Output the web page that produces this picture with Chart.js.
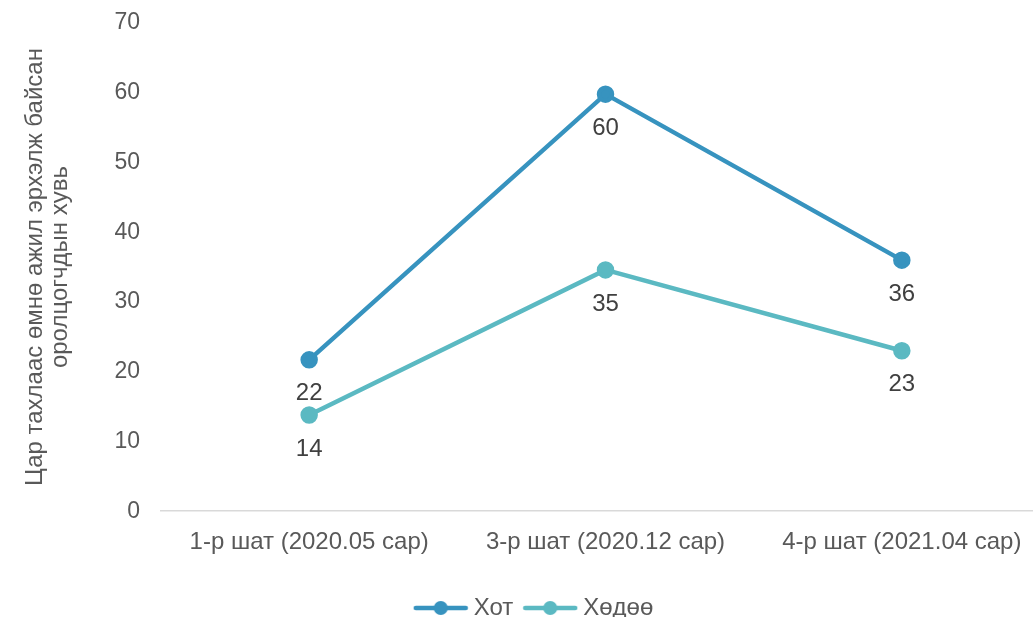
<!DOCTYPE html>
<html>
<head>
<meta charset="utf-8">
<script src="https://cdn.jsdelivr.net/npm/chart.js@4"></script>
<style>
html,body{margin:0;padding:0;background:#fff;}
#wrap{width:1033px;height:617px;}
</style>
</head>
<body>
<div id="wrap"><canvas id="c" width="1033" height="617"></canvas></div>
<script>
const categories = ["1-р шат (2020.05 сар)", "3-р шат (2020.12 сар)", "4-р шат (2021.04 сар)"];
const seriesNames = ["Хот", "Хөдөө"];
const hotValues = [21.7, 59.8, 36.0];
const hodooValues = [13.8, 34.6, 23.0];
const yTicks = [0, 10, 20, 30, 40, 50, 60, 70];
const colors = ["#3793bf", "#5bb9c2"];
const FONT = "'Liberation Sans', Arial, sans-serif";
const RIGHT_PAD = -17;

function legendIcon(color) {
  const c = document.createElement('canvas');
  c.width = 56; c.height = 16;
  const x = c.getContext('2d');
  x.strokeStyle = color; x.lineWidth = 4.5; x.lineCap = 'round';
  x.beginPath(); x.moveTo(3, 8); x.lineTo(53, 8); x.stroke();
  x.fillStyle = color; x.beginPath(); x.arc(28, 8, 7, 0, Math.PI * 2); x.fill();
  return c;
}

const labelPlugin = {
  id: 'pointLabels',
  afterDatasetsDraw(chart) {
    const ctx = chart.ctx;
    ctx.save();
    ctx.font = "24px " + FONT;
    ctx.fillStyle = "#404040";
    ctx.textAlign = "center";
    ctx.textBaseline = "middle";
    chart.data.datasets.forEach((ds, i) => {
      const meta = chart.getDatasetMeta(i);
      meta.data.forEach((pt, j) => {
        ctx.fillText(String(Math.round(ds.data[j])), pt.x, pt.y + 34);
      });
    });
    ctx.restore();
  }
};

// The plot area in the reference runs past the right edge of the canvas.
const widenPlugin = {
  id: 'widenX',
  afterLayout(chart) {
    try {
      const s = chart.scales.x;
      const newLeft = 161, newRight = 1050;
      s.left = newLeft; s.right = newRight; s.width = newRight - newLeft;
      s.configure();
      chart.chartArea.left = newLeft;
      chart.chartArea.right = newRight;
      chart.chartArea.width = newRight - newLeft;
    } catch (e) {}
  }
};

new Chart(document.getElementById('c'), {
  type: 'line',
  data: {
    labels: categories,
    datasets: [
      { label: seriesNames[0], data: hotValues, borderColor: colors[0], backgroundColor: colors[0],
        borderWidth: 4.5, pointRadius: 6.5, pointHoverRadius: 6.5, pointStyle: 'circle', tension: 0 },
      { label: seriesNames[1], data: hodooValues, borderColor: colors[1], backgroundColor: colors[1],
        borderWidth: 4.5, pointRadius: 6.5, pointHoverRadius: 6.5, pointStyle: 'circle', tension: 0 }
    ]
  },
  options: {
    responsive: false,
    animation: false,
    devicePixelRatio: 1,
    layout: { autoPadding: false, padding: { left: 23, right: RIGHT_PAD, top: 0, bottom: -13 } },
    scales: {
      x: {
        offset: true,
        grid: { display: false, drawTicks: false },
        border: { display: true, color: '#d9d9d9', width: 1.5 },
        ticks: { font: { size: 24, family: FONT }, color: '#595959', padding: 17, maxRotation: 0 },
        afterFit(scale) { scale.paddingLeft = 0; scale.paddingRight = RIGHT_PAD; scale.height += 6; }
      },
      y: {
        min: 0, max: 70,
        afterBuildTicks(scale) { scale.ticks = yTicks.map(v => ({ value: v })); },
        afterFit(scale) { scale.paddingTop = 23; scale.paddingRight = RIGHT_PAD; },
        grid: { display: false, drawTicks: false },
        border: { display: false },
        ticks: { font: { size: 23, family: FONT }, color: '#595959', padding: 20 },
        title: {
          display: true,
          text: ["Цар тахлаас өмнө ажил эрхэлж байсан", "оролцогчдын хувь"],
          font: { size: 24, family: FONT, lineHeight: 1.05 }, color: '#595959', padding: { top: 0, bottom: 21 }
        }
      }
    },
    plugins: {
      legend: {
        position: 'bottom',
        labels: {
          usePointStyle: true,
          pointStyleWidth: 42,
          font: { size: 24, family: FONT },
          color: '#595959',
          padding: 16,
          generateLabels(chart) {
            return chart.data.datasets.map((ds, i) => ({
              text: ds.label, pointStyle: legendIcon(colors[i]), fillStyle: colors[i],
              strokeStyle: colors[i], lineWidth: 0, datasetIndex: i, fontColor: '#595959'
            }));
          }
        }
      },
      tooltip: { enabled: false }
    }
  },
  plugins: [labelPlugin, widenPlugin]
});
</script>
</body>
</html>
